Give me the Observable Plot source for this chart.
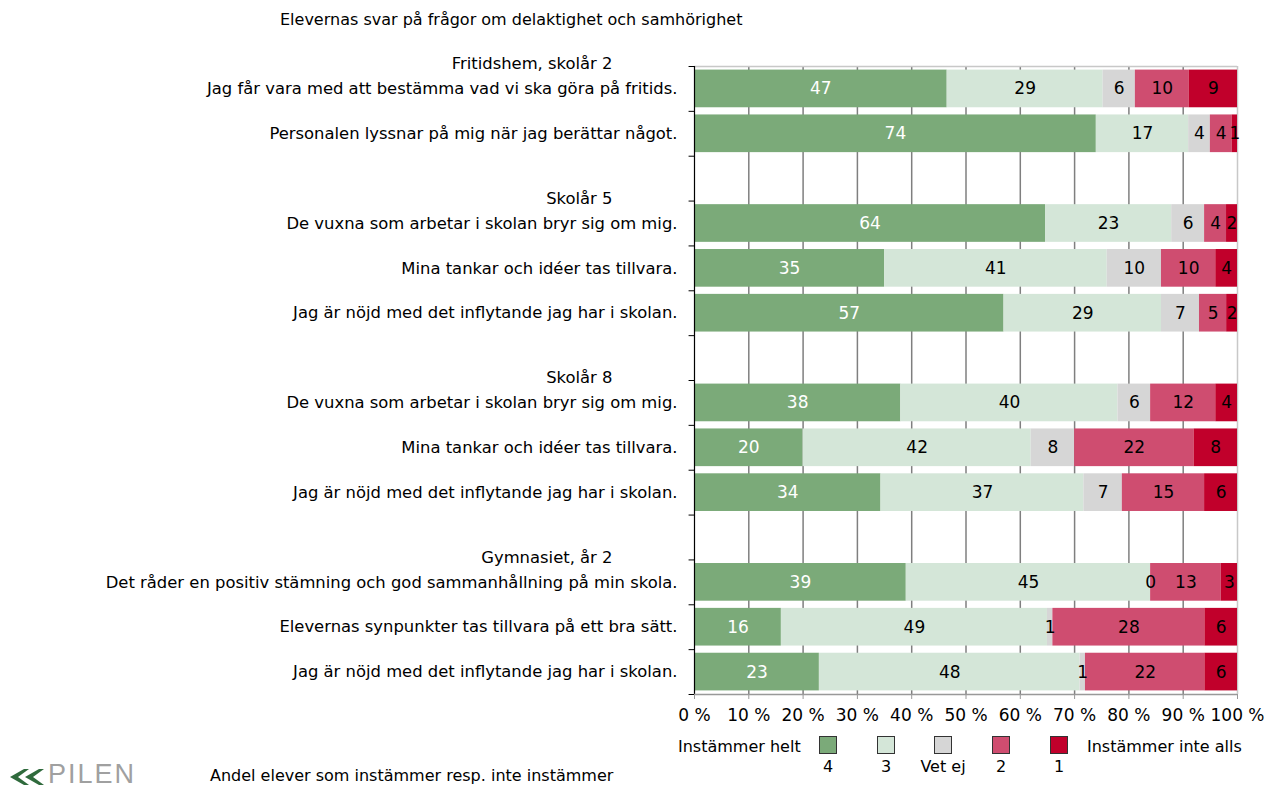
<!DOCTYPE html>
<html><head><meta charset="utf-8">
<script src="https://cdn.jsdelivr.net/npm/d3@7"></script>
<script src="https://cdn.jsdelivr.net/npm/@observablehq/plot@0.6"></script>
<style>
body{margin:0;background:#fff;font-family:"DejaVu Sans",sans-serif;color:#000;}
#wrap{position:relative;width:1283px;height:789px;overflow:hidden;}
.abs{position:absolute;white-space:nowrap;line-height:1.2;}
#chart{position:absolute;left:0;top:0;}
.sw{position:absolute;width:16px;height:16px;border:1px solid #333;}
</style></head>
<body><div id="wrap"><div id="chart"></div></div>
<script>
const title = "Elevernas svar på frågor om delaktighet och samhörighet";
const caption = "Andel elever som instämmer resp. inte instämmer";
const groups = ["Fritidshem, skolår 2", "Skolår 5", "Skolår 8", "Gymnasiet, år 2"];
const questions = [
  ["Jag får vara med att bestämma vad vi ska göra på fritids.", "Personalen lyssnar på mig när jag berättar något."],
  ["De vuxna som arbetar i skolan bryr sig om mig.", "Mina tankar och idéer tas tillvara.", "Jag är nöjd med det inflytande jag har i skolan."],
  ["De vuxna som arbetar i skolan bryr sig om mig.", "Mina tankar och idéer tas tillvara.", "Jag är nöjd med det inflytande jag har i skolan."],
  ["Det råder en positiv stämning och god sammanhållning på min skola.", "Elevernas synpunkter tas tillvara på ett bra sätt.", "Jag är nöjd med det inflytande jag har i skolan."]
];
const levels = ["4", "3", "Vet ej", "2", "1"];
const levelColors = ["#7baa79", "#d4e6d8", "#d6d6d6", "#cf4d70", "#c1002b"];
const s4    = [47, 74, 64, 35, 57, 38, 20, 34, 39, 16, 23];
const s3    = [29, 17, 23, 41, 29, 40, 42, 37, 45, 49, 48];
const sVet  = [ 6,  4,  6, 10,  7,  6,  8,  7,  0,  1,  1];
const s2    = [10,  4,  4, 10,  5, 12, 22, 15, 13, 28, 22];
const s1    = [ 9,  1,  2,  4,  2,  4,  8,  6,  3,  6,  6];
const xTicks = [0, 10, 20, 30, 40, 50, 60, 70, 80, 90, 100];
const legendLeft = "Instämmer helt";
const legendRight = "Instämmer inte alls";
const logoText = "PILEN";

// build rows (with blank separator rows between groups)
const rowKeys = [], rowLabel = {}, headerRows = [];
let qi = 0;
const rowsData = [];
groups.forEach((g, gi) => {
  if (gi > 0) { const k = "blank" + gi; rowKeys.push(k); rowLabel[k] = ""; }
  questions[gi].forEach((q, j) => {
    const k = "r" + qi; rowKeys.push(k); rowLabel[k] = q;
    if (j === 0) headerRows.push({key: k, text: g});
    const vals = [s4[qi], s3[qi], sVet[qi], s2[qi], s1[qi]];
    vals.forEach((v, li) => rowsData.push({row: k, level: levels[li], value: v}));
    qi++;
  });
});

const W = 1283, H = 740, mTop = 66, mBottom = 46, mLeft = 694, mRight = 46;
const step = (H - mTop - mBottom) / rowKeys.length;
const font = "DejaVu Sans";

const plot = Plot.plot({
  width: W, height: H,
  marginTop: mTop, marginBottom: mBottom, marginLeft: mLeft, marginRight: mRight,
  style: {fontFamily: font, fontSize: "16px", color: "#000", background: "transparent"},
  x: {domain: [0, 1], axis: null},
  y: {domain: rowKeys, paddingInner: 0.16, paddingOuter: 0.08, round: false, axis: null},
  color: {domain: levels, range: levelColors},
  marks: [
    Plot.ruleX(xTicks.slice(1, -1).map(d => d / 100), {stroke: "#7f7f7f", strokeWidth: 1.5}),
    Plot.ruleY([rowKeys[0]], {x1: 0, x2: 1, dy: -step / 2, stroke: "#c8c8c8", strokeWidth: 1.5}),
    Plot.ruleX([1], {stroke: "#c8c8c8", strokeWidth: 1.5}),
    Plot.barX(rowsData, Plot.stackX({x: "value", y: "row", fill: "level", offset: "normalize"})),
    Plot.text(rowsData, Plot.stackX({x: "value", y: "row", offset: "normalize",
      text: d => d.level === "4" ? String(d.value) : "", fill: "white", fontSize: 17})),
    Plot.text(rowsData, Plot.stackX({x: "value", y: "row", offset: "normalize",
      text: d => d.level !== "4" ? String(d.value) : "", fill: "black", fontSize: 17})),
    // left axis line and category ticks
    Plot.ruleX([0], {stroke: "#000", strokeWidth: 1.2}),
    Plot.ruleY(rowKeys, {x1: -0.01, x2: 0, dy: -step / 2, stroke: "#000"}),
    Plot.ruleY([rowKeys[rowKeys.length - 1]], {x1: -0.01, x2: 0, dy: step / 2, stroke: "#000"}),
    // bottom axis
    Plot.ruleY([rowKeys[rowKeys.length - 1]], {x1: 0, x2: 1, dy: step / 2, stroke: "#999", strokeWidth: 1.5}),
    Plot.axisX(xTicks.map(d => d / 100), {anchor: "bottom", tickSize: 5, tickPadding: 9, stroke: "#999", label: null,
      tickFormat: d => Math.round(d * 100) + " %", fontSize: 17, fill: "#000"}),
    // category labels
    Plot.text(rowKeys, {y: d => d, text: d => rowLabel[d], frameAnchor: "left", textAnchor: "end", dx: -17, fill: "#000", fontSize: 16.4}),
    Plot.text(headerRows, {y: "key", text: "text", frameAnchor: "left", textAnchor: "end", dx: -82, dy: -25, fill: "#000", fontSize: 16.4})
  ]
});
const wrap = document.getElementById("wrap");
document.getElementById("chart").appendChild(plot);

function addText(txt, x, y, size, anchor) {
  const d = document.createElement("div");
  d.className = "abs"; d.textContent = txt;
  d.style.left = x + "px"; d.style.top = y + "px"; d.style.fontSize = size + "px";
  if (anchor === "middle") d.style.transform = "translateX(-50%)";
  wrap.appendChild(d); return d;
}
addText(title, 280, 10, 16);
// legend
addText(legendLeft, 678, 737, 16);
const swX = [819, 877, 934, 992, 1050];
levels.forEach((l, i) => {
  const s = document.createElement("div");
  s.className = "sw"; s.style.left = swX[i] + "px"; s.style.top = "736px"; s.style.background = levelColors[i];
  wrap.appendChild(s);
  addText(l, swX[i] + 9, 757, 16, "middle");
});
addText(legendRight, 1087, 737, 16);
addText(caption, 210, 766, 16);
// logo: two chevrons + text
const chev = document.createElementNS("http://www.w3.org/2000/svg", "svg");
chev.setAttribute("width", 38); chev.setAttribute("height", 22);
chev.style.position = "absolute"; chev.style.left = "10px"; chev.style.top = "766px";
chev.innerHTML = '<polygon points="0,11 14,3 19,3 8,11 19,19 14,19" fill="#2f6a3c"/>' +
                 '<polygon points="15,11 29,3 34,3 23,11 34,19 29,19" fill="#2f6a3c"/>';
wrap.appendChild(chev);
const logo = addText(logoText, 48, 762, 27);
logo.style.lineHeight = "0.9";
logo.style.fontFamily = "'Liberation Sans', sans-serif";
logo.style.color = "#a0a0a0";
logo.style.letterSpacing = "2px";
</script></body></html>
